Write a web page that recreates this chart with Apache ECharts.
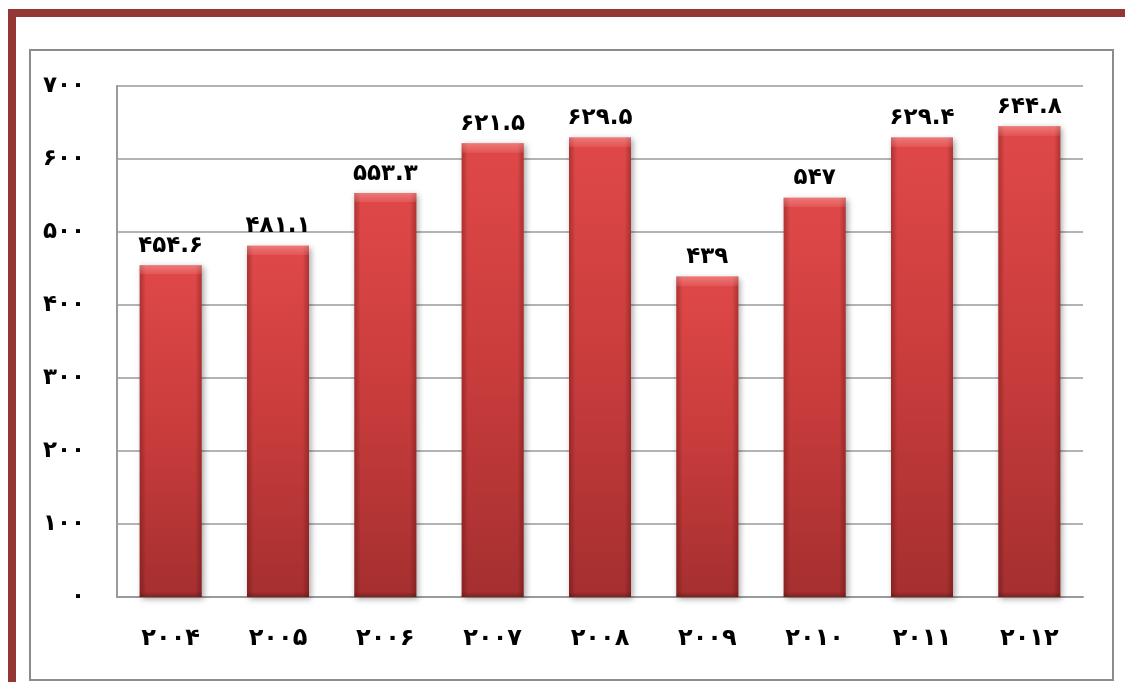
<!DOCTYPE html>
<html>
<head>
<meta charset="utf-8">
<script src="https://cdn.jsdelivr.net/npm/echarts@6/dist/echarts.min.js"></script>
<style>
html,body{margin:0;padding:0;background:#fff;}
#c{width:1125px;height:682px;}
</style>
</head>
<body>
<div id="c"></div>
<script>
const categories = ['2004','2005','2006','2007','2008','2009','2010','2011','2012'];
const values = [454.6, 481.1, 553.3, 621.5, 629.5, 439, 547, 629.4, 644.8];
const yTicks = [0, 100, 200, 300, 400, 500, 600, 700];

function fa(s){
  return String(s).replace(/[0-9]/g, d => '۰۱۲۳۴۵۶۷۸۹'[+d]);
}
const FONT = '"DejaVu Sans", "Noto Sans", sans-serif';
const txt = (size) => ({color:'#000', fontSize:size, fontWeight:'bold', fontFamily:FONT});

// bevel overlay: ~9px light strip at the top of each bar (plot scale: 511px per 700 units)
const bevelData = values.map(v => {
  const h = v * 511 / 700;
  const f = 9 / h;
  return {
    value: v,
    itemStyle:{color:{type:'linear',x:0,y:0,x2:0,y2:1,colorStops:[
      {offset:0,color:'rgba(255,180,180,0.45)'},
      {offset:f,color:'rgba(255,170,170,0.15)'},
      {offset:f+0.001,color:'rgba(255,255,255,0)'},
      {offset:1-5/h,color:'rgba(0,0,0,0)'},
      {offset:1,color:'rgba(60,0,0,0.3)'}
    ]}}
  };
});

const chart = echarts.init(document.getElementById('c'), null, {renderer:'canvas'});
chart.setOption({
  backgroundColor:'#fff',
  animation:false,
  graphic:[
    {type:'rect', shape:{x:8,y:9,width:1117,height:8}, style:{fill:'#943634'}, z:10},
    {type:'rect', shape:{x:8,y:9,width:8,height:673}, style:{fill:'#943634'}, z:10},
    {type:'rect', shape:{x:30,y:50,width:1083,height:630}, style:{fill:'none',stroke:'#8c8c8c',lineWidth:2}, z:-1}
  ],
  grid:{left:117, top:86, right:42, bottom:85},
  xAxis:{
    type:'category',
    data:categories,
    axisTick:{show:false},
    axisLine:{show:true, lineStyle:{color:'#9a9a9a', width:2}},
    axisLabel:Object.assign({formatter:v=>fa(v), margin:30}, txt(24))
  },
  yAxis:{
    type:'value',
    min:0, max:700, interval:100,
    axisLine:{show:true, lineStyle:{color:'#9a9a9a', width:2}},
    axisTick:{show:false},
    splitLine:{lineStyle:{color:'#9a9a9a', width:1.5}},
    axisLabel:Object.assign({formatter:v=>yTicks.includes(v)?fa(v):'', margin:32}, txt(23))
  },
  series:[{
    type:'bar',
    data:values,
    barWidth:62,
    itemStyle:{
      color:{type:'linear',x:0,y:0,x2:0,y2:1,colorStops:[
        {offset:0,color:'#e04848'},{offset:0.5,color:'#c93c3c'},{offset:1,color:'#a52f2f'}
      ]},
      shadowColor:'rgba(0,0,0,0.35)', shadowBlur:6, shadowOffsetX:2, shadowOffsetY:2
    },
    label:Object.assign({show:true, position:'top', distance:8, formatter:p=>fa(p.value)}, txt(23))
  },{
    type:'bar',
    data:values,
    barWidth:62,
    barGap:'-100%',
    silent:true,
    itemStyle:{
      color:{type:'linear',x:0,y:0,x2:1,y2:0,colorStops:[
        {offset:0,color:'rgba(80,0,0,0.3)'},{offset:0.1,color:'rgba(0,0,0,0)'},{offset:0.9,color:'rgba(0,0,0,0)'},{offset:1,color:'rgba(80,0,0,0.3)'}
      ]}
    }
  },{
    type:'bar',
    data:bevelData,
    barWidth:62,
    barGap:'-100%',
    silent:true
  }]
});
</script>
</body>
</html>
